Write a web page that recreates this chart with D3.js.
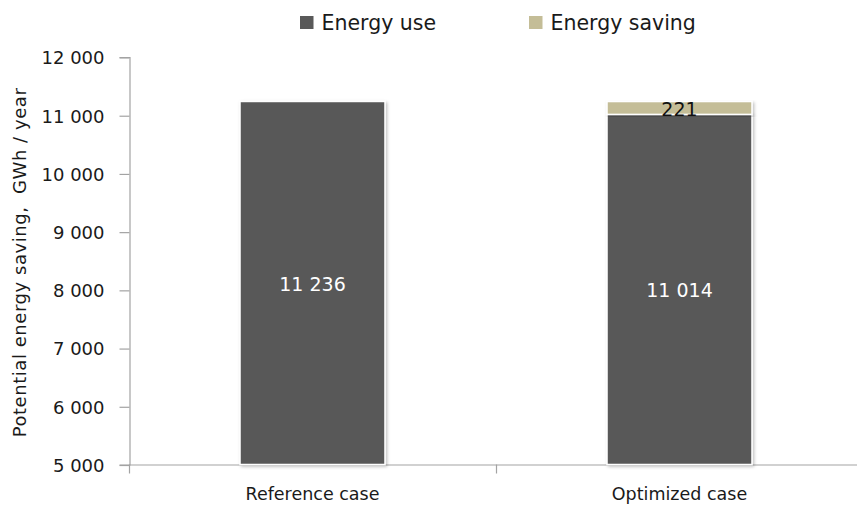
<!DOCTYPE html>
<html>
<head>
<meta charset="utf-8">
<script src="https://cdn.jsdelivr.net/npm/d3@7"></script>
<style>
  html, body { margin: 0; padding: 0; background: #fff; }
  svg { display: block; font-family: "DejaVu Sans", sans-serif; }
</style>
</head>
<body>
<svg id="chart" width="857" height="505"></svg>
<script>
// Categories and stacked series (GWh / year)
const categories = ["Reference case", "Optimized case"];
const energyUse = [11236, 11014];
const energySaving = [0, 221];
const seriesNames = ["Energy use", "Energy saving"];
const yTicks = [5000, 6000, 7000, 8000, 9000, 10000, 11000, 12000];

const colors = { use: "#595959", saving: "#c4bd97" };
const axisColor = "#a3a3a3";
const textColor = "#1a1a1a";
const fmt = v => d3.format(",")(v).replace(/,/g, " ");

const svg = d3.select("#chart");
const W = 857, H = 505;
const x0 = 129, x1 = 863;
const y0 = 464.5, y1 = 57;

const x = d3.scaleBand().domain(categories).range([x0, x1]);
const y = d3.scaleLinear().domain([5000, 12000]).range([y0, y1]);
const barW = x.bandwidth() * 0.395;

// soft shadows for bars and grid lines
const defs = svg.append("defs");
defs.append("filter").attr("id", "shadow")
  .attr("x", "-10%").attr("y", "-10%").attr("width", "130%").attr("height", "130%")
  .append("feDropShadow").attr("dx", 1.5).attr("dy", 1.5).attr("stdDeviation", 1.5)
  .attr("flood-color", "#000").attr("flood-opacity", 0.25);
defs.append("filter").attr("id", "lineshadow")
  .attr("x", "-5%").attr("y", "-200%").attr("width", "110%").attr("height", "500%")
  .append("feDropShadow").attr("dx", 0).attr("dy", 1.2).attr("stdDeviation", 0.8)
  .attr("flood-color", "#000").attr("flood-opacity", 0.18);

// horizontal gridlines
svg.append("g").selectAll("line").data(yTicks.filter(d => d > 5000)).join("line")
  .attr("x1", x0).attr("x2", W)
  .attr("y1", d => Math.round(y(d)) + 0.5).attr("y2", d => Math.round(y(d)) + 0.5)
  .attr("stroke", axisColor).attr("stroke-width", 1.2)
  .attr("filter", "url(#lineshadow)");

// y axis
const yAxis = d3.axisLeft(y).tickValues(yTicks).tickSize(10).tickPadding(15).tickFormat(fmt);
const gy = svg.append("g").attr("transform", `translate(${x0 + 0.5},0)`).call(yAxis);
gy.select(".domain").attr("stroke", axisColor).attr("stroke-width", 1.2);
gy.selectAll(".tick line")
  .attr("y1", 0.5).attr("y2", 0.5)
  .attr("stroke", axisColor).attr("stroke-width", 1.2);
gy.selectAll(".tick text").attr("font-size", 18).attr("fill", textColor)
  .attr("font-family", "DejaVu Sans, sans-serif").attr("dy", "0.38em");

// x axis
const xAxis = d3.axisBottom(x).tickSize(0);
const gx = svg.append("g").attr("transform", `translate(0,${y0})`).call(xAxis);
gx.select(".domain").attr("stroke", axisColor).attr("stroke-width", 1.2);
gx.selectAll(".tick text").attr("font-size", 17.5).attr("fill", textColor)
  .attr("font-family", "DejaVu Sans, sans-serif")
  .attr("y", 35.5).attr("dy", 0);
// category boundary ticks
gx.append("g").selectAll("line").data([x0, x(categories[1])]).join("line")
  .attr("x1", d => d + 0.5).attr("x2", d => d + 0.5).attr("y1", 0).attr("y2", 9)
  .attr("stroke", axisColor).attr("stroke-width", 1.2);

// stacked bars
const rows = categories.map((c, i) => ({ cat: c, use: energyUse[i], saving: energySaving[i] }));
const stack = d3.stack().keys(["use", "saving"])(rows);
const fills = [colors.use, colors.saving];
const bars = svg.append("g");
stack.forEach((layer, li) => {
  bars.append("g").selectAll("rect").data(layer.filter(d => d[1] > d[0])).join("rect")
    .attr("x", d => x(d.data.cat) + (x.bandwidth() - barW) / 2)
    .attr("width", barW)
    .attr("y", d => y(d[1]))
    .attr("height", d => y(Math.max(d[0], 5000)) - y(d[1]))
    .attr("fill", fills[li])
    .attr("stroke", "#fff").attr("stroke-width", 1.5)
    .attr("filter", "url(#shadow)");
});

// value labels
const labels = svg.append("g").attr("text-anchor", "middle");
labels.selectAll("text.use").data(stack[0]).join("text")
  .attr("class", "use")
  .attr("x", d => x(d.data.cat) + x.bandwidth() / 2)
  .attr("y", d => (y(5000) + y(d[1])) / 2 + 1)
  .attr("dy", "0.36em").attr("fill", "#fff").attr("font-size", 19)
  .text(d => fmt(d.data.use));
labels.selectAll("text.saving").data(stack[1].filter(d => d.data.saving > 0)).join("text")
  .attr("class", "saving")
  .attr("x", d => x(d.data.cat) + x.bandwidth() / 2)
  .attr("y", d => (y(d[0]) + y(d[1])) / 2 + 1)
  .attr("dy", "0.36em").attr("fill", "#111").attr("font-size", 19)
  .text(d => d.data.saving);

// y axis title
svg.append("text")
  .attr("transform", `translate(26,${(88 + 437) / 2}) rotate(-90)`)
  .attr("text-anchor", "middle").attr("font-size", 18).attr("fill", textColor)
  .attr("letter-spacing", "0.55px")
  .text("Potential energy saving,\u00a0 GWh / year");

// legend
const legend = svg.append("g").attr("font-size", 20.5).attr("fill", textColor);
const legendX = [300, 529];
seriesNames.forEach((n, i) => {
  legend.append("rect").attr("x", legendX[i]).attr("y", 16).attr("width", 13.5).attr("height", 13)
    .attr("fill", fills[i]);
  legend.append("text").attr("x", legendX[i] + 21.5).attr("y", 30).text(n);
});
</script>
</body>
</html>
